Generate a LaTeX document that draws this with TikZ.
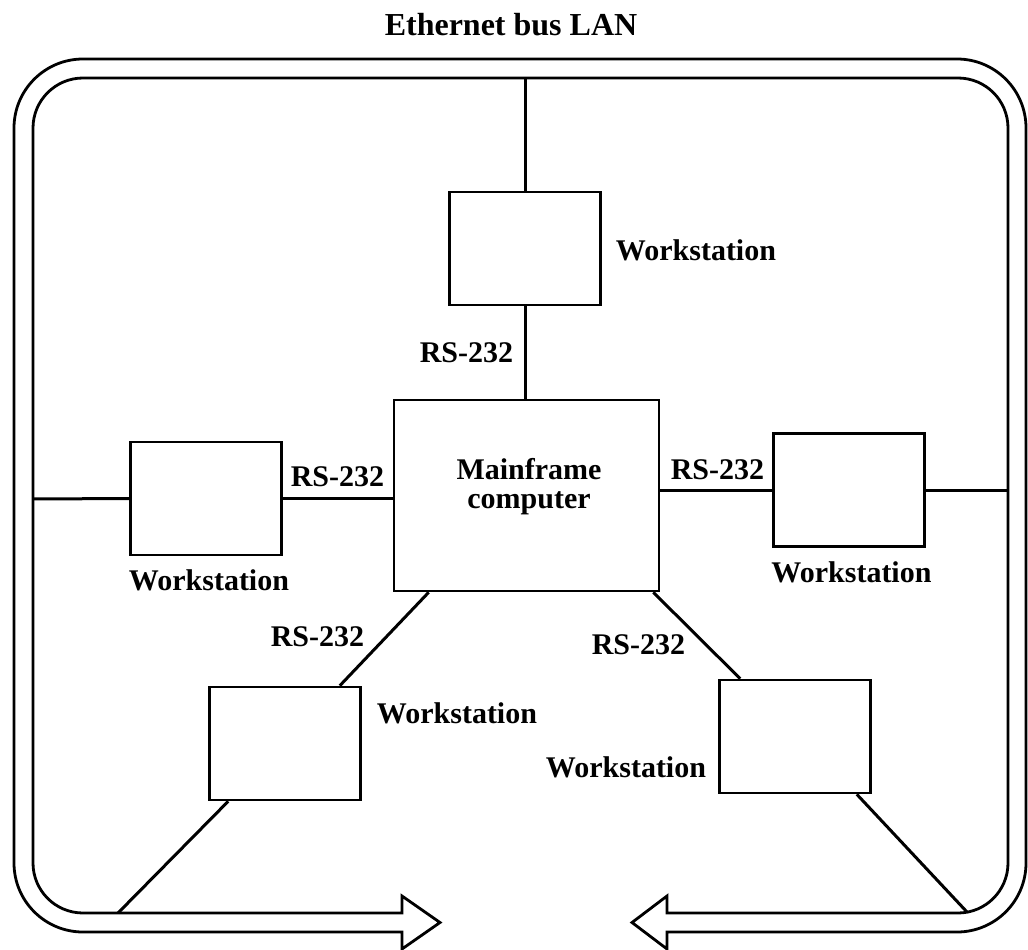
\documentclass[tikz,border=0pt]{standalone}
\usepackage{fontspec}
\setmainfont{Liberation Serif}
\usetikzlibrary{calc}
\begin{document}
\begin{tikzpicture}[x=1pt,y=-1pt,
  wsbox/.style={draw,line width=2.6pt,minimum width=151pt,minimum height=113pt,inner sep=0pt},
  mfbox/.style={draw,line width=2.6pt,minimum width=265pt,minimum height=191pt,inner sep=0pt},
  lbl/.style={font=\fontsize{30}{30}\selectfont\bfseries,inner sep=0pt},
  link/.style={line width=3pt},
  bus/.style={line width=2.8pt,line join=miter}]
\useasboundingbox (0,0) rectangle (1028,950);

\node[font=\fontsize{32}{32}\selectfont\bfseries,inner sep=0pt] (title) at (511,25) {Ethernet bus LAN};

% bus pipe
\draw[bus] (440,922.5) -- (402,896) -- (402,913) -- (300,913)
  [rounded corners=50pt] -- (33,913) -- (33,78) -- (1008,78) -- (1008,913) -- (760,913)
  [sharp corners] -- (667,913) -- (667,896) -- (632,922.5) -- (667,949) -- (667,932) -- (760,932)
  [rounded corners=69pt] -- (1026,932) -- (1026,59) -- (14,59) -- (14,932) -- (300,932)
  [sharp corners] -- (402,932) -- (402,949) -- cycle;

% boxes
\node[wsbox] (wsT) at (525,248.5) {};
\node[mfbox] (mf) at (526.5,495.5) {};
\node[wsbox] (wsL) at (206,498.5) {};
\node[wsbox] (wsR) at (849,490) {};
\node[wsbox] (wsBL) at (285,743.5) {};
\node[wsbox] (wsBR) at (795,736.5) {};

% labels
\node[lbl,align=center,font=\fontsize{30}{29}\selectfont\bfseries] (mft) at (529,487) {Mainframe\\computer};
\node[lbl] (lT) at (696,250) {Workstation};
\node[lbl] (rT) at (466.5,353) {RS-232};
\node[lbl] (rL) at (337.5,477) {RS-232};
\node[lbl] (lL) at (209,580) {Workstation};
\node[lbl] (rR) at (717.5,470) {RS-232};
\node[lbl] (lR) at (851.5,572) {Workstation};
\node[lbl] (rBL) at (317.5,637) {RS-232};
\node[lbl] (lBL) at (457,713) {Workstation};
\node[lbl] (rBR) at (638.5,645) {RS-232};
\node[lbl] (lBR) at (626,767) {Workstation};

% bus attachment points
\coordinate (busT) at (525,78);
\coordinate (busL) at (33,499);
\coordinate (busR) at (1008,490);
\coordinate (busBL) at (118,913);
\coordinate (busBR) at (967,912);

% connectors
\draw[link] (busT) -- (wsT.north);
\draw[link] (wsT.south) -- (wsT.south |- mf.north);
\draw[link] (busL) -- (wsL.west);
\draw[link] (wsL.east) -- (wsL.east -| mf.west);
\draw[link] (mf.east |- wsR.west) -- (wsR.west);
\draw[link] (wsR.east) -- (busR);
\draw[link] ($(mf.south west)+(36,0)$) -- ($(wsBL.north east)+(-22,0)$);
\draw[link] ($(wsBL.south west)+(20,0)$) -- (busBL);
\draw[link] ($(mf.south east)+(-7,0)$) -- ($(wsBR.north west)+(22,0)$);
\draw[link] ($(wsBR.south east)+(-15,0)$) -- (busBR);
\end{tikzpicture}
\end{document}
